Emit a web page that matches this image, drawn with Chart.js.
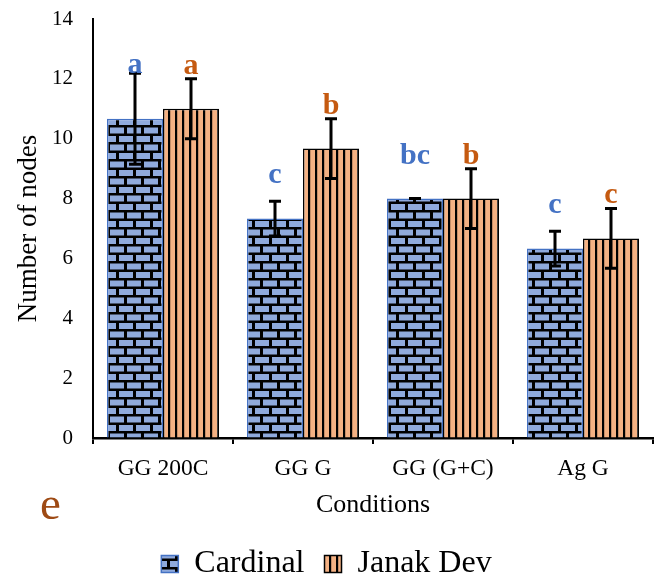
<!DOCTYPE html>
<html>
<head>
<meta charset="utf-8">
<script src="https://cdn.jsdelivr.net/npm/chart.js@4.4.1/dist/chart.umd.min.js"></script>
<style>
  html, body { margin: 0; padding: 0; background: #ffffff; }
  #wrap { width: 665px; height: 580px; }
</style>
</head>
<body>
<div id="wrap"><canvas id="c" width="665" height="580"></canvas></div>
<script>
// ---- data ----
const categories = ['GG 200C', 'GG G', 'GG (G+C)', 'Ag G'];
const seriesNames = ['Cardinal', 'Janak Dev'];
const cardinal = [10.67, 7.33, 8.0, 6.33];
const janakDev = [11.0, 9.67, 8.0, 6.67];
const cardinalErr = [1.52, 0.58, 0.0, 0.58];
const janakDevErr = [1.0, 1.0, 1.0, 1.0];
const cardinalLetters = ['a', 'c', 'bc', 'c'];
const janakDevLetters = ['a', 'b', 'b', 'c'];
const cardinalLetterLevel = [12.2, 8.52, 9.15, 7.52];
const janakDevLetterLevel = [12.16, 10.82, 9.15, 7.85];
const yMin = 0, yMax = 14, yStep = 2;
const panelLetter = 'e';

// ---- fill patterns ----
function brickPattern() {
  const t = document.createElement('canvas');
  t.width = 17; t.height = 17;
  const g = t.getContext('2d');
  g.fillStyle = '#000000';
  g.fillRect(0, 0, 17, 17);
  g.fillStyle = '#8FAADC';
  g.fillRect(0, 0, 14, 6);
  g.fillRect(8, 8.5, 14, 6);
  g.fillRect(-9, 8.5, 14, 6);
  return g.createPattern(t, 'repeat');
}
function stripePattern() {
  const t = document.createElement('canvas');
  t.width = 7; t.height = 4;
  const g = t.getContext('2d');
  g.fillStyle = '#F4B183';
  g.fillRect(0, 0, 7, 4);
  g.fillStyle = '#000000';
  g.fillRect(0, 0, 2.2, 4);
  return g.createPattern(t, 'repeat');
}

const errs = [cardinalErr, janakDevErr];
const letters = [cardinalLetters, janakDevLetters];
const letterLevels = [cardinalLetterLevel, janakDevLetterLevel];
const letterColors = ['#4472C4', '#C55A11'];

const serif = "'Liberation Serif', 'Times New Roman', serif";

const annotatePlugin = {
  id: 'annotate',
  afterDatasetsDraw(chart) {
    const ctx = chart.ctx;
    const ys = chart.scales.y;
    chart.data.datasets.forEach((ds, d) => {
      const meta = chart.getDatasetMeta(d);
      meta.data.forEach((el, i) => {
        const v = ds.data[i], e = errs[d][i];
        const x = el.x;
        const yt = ys.getPixelForValue(v + e);
        const yb = ys.getPixelForValue(v - e);
        ctx.save();
        ctx.strokeStyle = '#000000';
        ctx.lineWidth = 3;
        ctx.beginPath();
        if (e > 0) { ctx.moveTo(x, yt); ctx.lineTo(x, yb); }
        ctx.moveTo(x - 6, yt); ctx.lineTo(x + 6, yt);
        ctx.moveTo(x - 6, yb); ctx.lineTo(x + 6, yb);
        ctx.stroke();
        ctx.fillStyle = letterColors[d];
        ctx.font = "bold 30px " + serif;
        ctx.textAlign = 'center';
        ctx.textBaseline = 'alphabetic';
        ctx.fillText(letters[d][i], x, ys.getPixelForValue(letterLevels[d][i]));
        ctx.restore();
      });
    });
    ctx.save();
    ctx.fillStyle = '#9E4A14';
    ctx.font = "47px " + serif;
    ctx.textAlign = 'left';
    ctx.textBaseline = 'alphabetic';
    ctx.fillText(panelLetter, 40, 519);
    ctx.restore();
  }
};

new Chart(document.getElementById('c'), {
  type: 'bar',
  data: {
    labels: categories,
    datasets: [
      {
        label: seriesNames[0],
        data: cardinal,
        backgroundColor: brickPattern(),
        borderColor: '#4472C4',
        borderWidth: 1.5,
        categoryPercentage: 0.8,
        barPercentage: 1.0
      },
      {
        label: seriesNames[1],
        data: janakDev,
        backgroundColor: stripePattern(),
        borderColor: '#000000',
        borderWidth: 1.5,
        categoryPercentage: 0.8,
        barPercentage: 1.0
      }
    ]
  },
  options: {
    responsive: false,
    animation: false,
    devicePixelRatio: 1,
    layout: { padding: { top: 19, right: 12, bottom: -10, left: 0 } },
    plugins: {
      legend: {
        display: true,
        position: 'bottom',
        labels: {
          boxWidth: 17,
          boxHeight: 17,
          padding: 20,
          color: '#000000',
          font: { family: serif, size: 32, lineHeight: 1.0 }
        }
      },
      tooltip: { enabled: false }
    },
    scales: {
      x: {
        offset: true,
        grid: {
          offset: true,
          drawOnChartArea: false,
          drawTicks: true,
          tickLength: 6,
          color: '#000000',
          lineWidth: 2
        },
        border: { display: true, color: '#000000', width: 2.5 },
        ticks: {
          color: '#000000',
          font: { family: serif, size: 23.5 },
          padding: 11,
          maxRotation: 0
        },
        title: {
          display: true,
          text: 'Conditions',
          color: '#000000',
          font: { family: serif, size: 26 },
          padding: { top: 7.5, bottom: 7.5 }
        },
        afterFit(s) { s.height = 90; }
      },
      y: {
        min: yMin,
        max: yMax,
        ticks: {
          stepSize: yStep,
          color: '#000000',
          font: { family: serif, size: 21 },
          padding: 0
        },
        grid: {
          drawOnChartArea: false,
          drawTicks: true,
          tickLength: 20,
          color: 'rgba(0,0,0,0)'
        },
        border: { display: true, color: '#000000', width: 2 },
        title: {
          display: true,
          text: 'Number of nodes',
          color: '#000000',
          font: { family: serif, size: 27 },
          padding: { top: 13, bottom: 13 }
        },
        afterFit(s) { s.width = 93; }
      }
    }
  },
  plugins: [annotatePlugin]
});
</script>
</body>
</html>
